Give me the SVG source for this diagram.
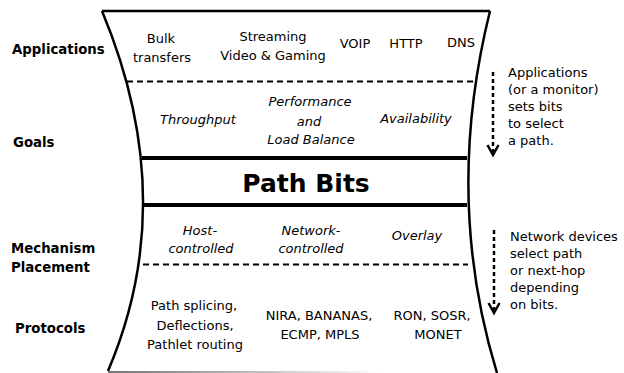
<svg xmlns="http://www.w3.org/2000/svg" width="624" height="373" viewBox="0 0 624 373">
<style>
text{font-family:"DejaVu Sans",sans-serif;font-size:13px;fill:#000}
.b{font-weight:bold}
.lab{font-size:13.3px}
.i{font-style:italic}
.c{text-anchor:middle}
.edge{fill:none;stroke:#000;stroke-width:2.5}
.dash{fill:none;stroke:#000;stroke-width:2;stroke-dasharray:6,4}
.thick{stroke:#000;stroke-width:4}
.arr{fill:none;stroke:#000;stroke-width:2.5;stroke-dasharray:4,3}
.head{fill:none;stroke:#000;stroke-width:2.5}
</style>
<defs>
<linearGradient id="fade" gradientUnits="userSpaceOnUse" x1="108" y1="0" x2="380" y2="0">
<stop offset="0" stop-color="#444"/>
<stop offset="1" stop-color="#fff"/>
</linearGradient>
</defs>
<g id="frame">
<line x1="102" y1="11" x2="490" y2="11" class="edge"/>
<path d="M102,11 Q181,200 108,371" class="edge"/>
<path d="M490,11 Q443.5,198 497,373" class="edge"/>
<line x1="108" y1="372" x2="400" y2="372" stroke="url(#fade)" stroke-width="1.5"/>
</g>
<g id="dividers">
<line x1="127" y1="81.5" x2="477" y2="81.5" class="dash"/>
<line x1="142" y1="158" x2="467" y2="158" class="thick"/>
<line x1="143" y1="205" x2="467" y2="205" class="thick"/>
<line x1="143" y1="264.5" x2="468" y2="264.5" class="dash"/>
</g>
<g id="layer-labels">
<text x="12" y="54" class="b lab">Applications</text>
<text x="13" y="147" class="b lab">Goals</text>
<text x="11" y="253" class="b lab">Mechanism</text>
<text x="11" y="272" class="b lab">Placement</text>
<text x="15" y="333" class="b lab">Protocols</text>
</g>
<g id="applications">
<text x="161" y="43" class="c">Bulk</text>
<text x="162" y="62" class="c">transfers</text>
<text x="273" y="41" class="c">Streaming</text>
<text x="273" y="60" class="c">Video &amp; Gaming</text>
<text x="355" y="48" class="c">VOIP</text>
<text x="406" y="48" class="c">HTTP</text>
<text x="461" y="47" class="c">DNS</text>
</g>
<g id="goals">
<text x="198" y="124" class="c i">Throughput</text>
<text x="310" y="106" class="c i">Performance</text>
<text x="309" y="126" class="c i">and</text>
<text x="311" y="144" class="c i">Load Balance</text>
<text x="416" y="123" class="c i">Availability</text>
</g>
<g id="path-bits">
<text x="306" y="192" class="c b" style="font-size:25px">Path Bits</text>
</g>
<g id="mechanism">
<text x="200" y="235" class="c i">Host-</text>
<text x="201" y="253" class="c i">controlled</text>
<text x="311" y="235" class="c i">Network-</text>
<text x="311" y="253" class="c i">controlled</text>
<text x="417" y="240" class="c i">Overlay</text>
</g>
<g id="protocols">
<text x="194" y="310" class="c">Path splicing,</text>
<text x="195" y="330" class="c">Deflections,</text>
<text x="195" y="349" class="c">Pathlet routing</text>
<text x="319" y="320" class="c">NIRA, BANANAS,</text>
<text x="320" y="339" class="c">ECMP, MPLS</text>
<text x="432" y="320" class="c">RON, SOSR,</text>
<text x="438" y="339" class="c">MONET</text>
</g>
<g id="connectors">
<line x1="493" y1="72" x2="493" y2="152" class="arr"/>
<polyline points="487.5,145 493,155 498.5,145" class="head"/>
<line x1="494" y1="230" x2="494" y2="310" class="arr"/>
<polyline points="488.5,303 494,313 499.5,303" class="head"/>
</g>
<g id="notes">
<text x="508" y="77">Applications</text>
<text x="508" y="94">(or a monitor)</text>
<text x="508" y="111">sets bits</text>
<text x="508" y="128">to select</text>
<text x="508" y="145">a path.</text>
<text x="510" y="241">Network devices</text>
<text x="510" y="258">select path</text>
<text x="510" y="275">or next-hop</text>
<text x="510" y="292">depending</text>
<text x="510" y="309">on bits.</text>
</g>
</svg>
